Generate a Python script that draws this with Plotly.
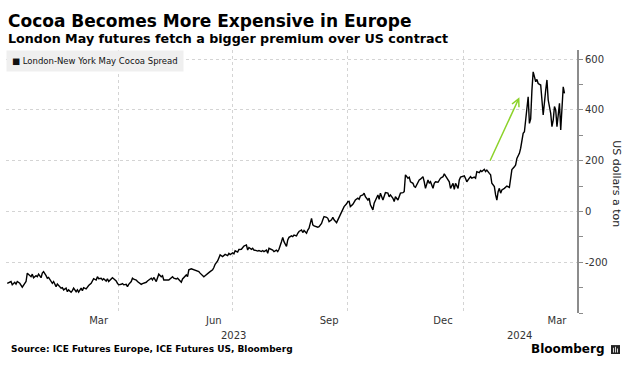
import pandas as pd
import plotly.graph_objects as go

# Days since 2023-01-01 and London-New York May cocoa spread (US$/t)
days = [
    1, 4, 5, 7, 8, 9, 11, 13, 15, 16, 17, 19, 20, 21, 22, 24, 25, 26, 28, 29, 30, 32, 33, 34, 36, 37, 38,
    40, 41, 42, 44, 45, 46, 48, 49, 50, 52, 53, 54, 56, 57, 58, 60, 61, 62, 64, 65, 66, 68, 69, 70, 72,
    73, 74, 76, 77, 78, 80, 81, 82, 84, 85, 86, 88, 89, 90,
    92, 93, 94, 96, 97, 98, 100, 101, 102, 104, 105, 106, 108, 109, 110, 112, 113, 114, 116, 117, 118,
    120, 121, 122, 124, 125, 126, 128, 129, 130, 132, 133, 134, 136, 137, 138, 140, 141, 142, 144, 145,
    146, 148, 150, 152, 154, 155, 157, 158, 159, 161, 162, 163, 165, 166, 167, 169, 170, 171, 173, 174,
    175, 177, 178, 179, 181, 182, 183, 185, 186,
    188, 189, 190, 192, 193, 194, 196, 197, 198, 200, 201, 202, 204, 205, 206, 208, 209, 210, 212, 213,
    214, 216, 217, 218, 220, 221, 222, 224, 225, 226, 228, 229, 230, 232, 233, 234, 236, 237, 238, 240,
    241, 242, 244, 245, 246, 248, 249, 250, 252, 253, 254, 256, 257, 258, 260, 261, 262, 264, 265, 266,
    268, 269, 270, 272, 273, 274, 275, 277, 278, 279, 281,
    282, 283, 285, 286, 287, 289, 290, 291, 293, 294, 295, 297, 298, 299, 301, 302, 303, 305, 306, 307,
    309, 310, 311, 313, 314, 315, 317, 318, 319, 321, 322, 323, 325, 326, 327, 329, 330, 331, 333, 334,
    335, 337, 338, 339, 341, 342, 343, 345, 346, 347, 349, 350, 351, 353, 354, 355, 357, 358, 359, 361,
    362, 363, 365,
    366, 367, 368, 370, 371, 372, 374, 375, 376, 378, 379, 380, 382, 383, 384, 386, 387, 388, 390, 391,
    392, 393, 394, 395, 396, 398, 399, 400, 402, 403, 404, 406, 407, 408, 410, 411, 412, 413, 414, 415,
    416, 417, 418, 419, 420, 421, 422, 423, 424, 425, 427, 428, 429, 431, 432, 433, 435, 436, 437, 438,
    439, 440, 441, 442, 443, 444, 445, 446,
]
spread = [
    -283, -276, -289, -279, -286, -276, -283, -298, -283, -276, -243, -250, -257, -247, -261, -253, -257,
    -247, -261, -243, -237, -253, -263, -260, -276, -283, -276, -296, -286, -292, -302, -300, -309, -302,
    -316, -309, -318, -312, -302, -316, -309, -318, -302, -312, -300, -305, -296, -292, -283, -276, -265,
    -270, -257, -265, -263, -270, -265, -274, -265, -276, -263, -261, -265, -274, -283, -289,
    -287, -284, -289, -287, -296, -287, -276, -263, -267, -270, -276, -279, -287, -284, -283, -279, -274,
    -270, -263, -270, -260, -276, -263, -247, -257, -253, -270, -272, -270, -270, -263, -257, -263, -266,
    -263, -270, -279, -266, -260, -250, -257, -230, -226, -229, -233, -237, -243, -250, -257, -253, -247,
    -241, -237, -230, -221, -208, -195, -184, -171, -178, -174, -169, -174, -165, -170, -163, -167, -155,
    -160, -150,
    -149, -141, -136, -132, -152, -142, -149, -145, -152, -154, -156, -154, -158, -154, -158, -152, -165,
    -145, -149, -152, -158, -152, -158, -149, -119, -102, -119, -138, -112, -102, -96, -99, -93, -96, -86,
    -79, -73, -83, -75, -86, -73, -66, -27, -53, -57, -62, -62, -60, -47, -33, -20, -23, -27, -40, -33,
    -23, -33, -44, -33, -27, -1, 6, 19, 30, 39, 40, 19, 28, 35, 45, 52,
    48, 61, 65, 72, 58, 45, 52, 26, 6, 32, 45, 65, 48, 72, 45, 65, 74, 72, 58, 65, 52, 39, 58, 45, 58, 72,
    74, 78, 144, 131, 135, 117, 111, 98, 95, 117, 124, 127, 137, 117, 91, 124, 111, 117, 91, 111, 117,
    115, 124, 131, 137, 148, 140, 124, 117, 91, 111, 87, 111, 91, 124, 135, 138,
    140, 130, 117, 131, 137, 131, 135, 131, 157, 153, 161, 157, 166, 157, 163, 150, 144, 111, 98, 65, 45,
    78, 91, 72, 85, 91, 95, 100, 95, 137, 165, 176, 183, 209, 229, 249, 281, 308, 314, 360, 420, 452, 347,
    365, 478, 550, 531, 511, 520, 504, 498, 446, 380, 478, 518, 439, 386, 334, 360, 413, 400, 334, 373,
    426, 321, 413, 491, 465,
]

month_tick_dates = ["2023-03-16", "2023-06-16", "2023-09-16", "2023-12-16", "2024-03-16"]
month_tick_labels = ["Mar", "Jun", "Sep", "Dec", "Mar"]
quarter_grid_dates = ["2023-04-01", "2023-07-01", "2023-10-01", "2024-01-01"]
year_label_dates = ["2023-07-02", "2024-02-15"]
year_labels = ["2023", "2024"]
y_tick_vals = [-400, -200, 0, 200, 400, 600]
y_tick_text = ["", "-200", "0", "200", "400", "600"]
arrow_start = ("2024-01-22", 194)
arrow_end = ("2024-02-15", 450)

dates = pd.Timestamp("2023-01-01") + pd.to_timedelta(days, unit="D")

FONT = "DejaVu Sans"
GRID = "#d4d4d4"
AXIS = "#8c8c8c"

fig = go.Figure()
fig.add_trace(go.Scatter(
    x=dates, y=spread, mode="lines",
    line=dict(color="#000000", width=1.4),
    name="London-New York May Cocoa Spread", showlegend=False,
))

fig.update_layout(
    template="none",
    width=624, height=369,
    margin=dict(l=6, r=47, t=50, b=56, autoexpand=False),
    paper_bgcolor="white", plot_bgcolor="white",
    font=dict(family=FONT, color="#222"),
    showlegend=False,
    xaxis=dict(
        type="date", range=["2023-01-01", "2024-04-01"], automargin=False,
        tickmode="array", tickvals=month_tick_dates, ticktext=month_tick_labels,
        showgrid=False, zeroline=False, showline=False, ticks="",
        tickfont=dict(size=10, color="#333"),
        minor=dict(tickmode="array", tickvals=quarter_grid_dates, showgrid=True,
                   gridcolor=GRID, griddash="dot", gridwidth=1, ticks=""),
    ),
    yaxis=dict(
        side="right", range=[-400, 636], automargin=False,
        tickmode="array", tickvals=y_tick_vals, ticktext=y_tick_text,
        showgrid=True, gridcolor=GRID, griddash="dot", gridwidth=1,
        zeroline=False, showline=True, linecolor=AXIS, linewidth=2,
        ticks="outside", ticklen=4, tickcolor=AXIS, tickwidth=1,
        tickfont=dict(size=10, color="#333"),
        minor=dict(dtick=100, ticks="outside", ticklen=4, tickcolor=AXIS, showgrid=False),
    ),
)

annotations = [
    dict(text="<b>Cocoa Becomes More Expensive in Europe</b>", xref="paper", yref="paper",
         x=0, y=1.110, xanchor="left", yanchor="middle", showarrow=False,
         font=dict(family=FONT, size=17, color="#000")),
    dict(text="<b>London May futures fetch a bigger premium over US contract</b>", xref="paper", yref="paper",
         x=0, y=1.042, xanchor="left", yanchor="middle", showarrow=False,
         font=dict(family=FONT, size=12.7, color="#000")),
    dict(text="■ London-New York May Cocoa Spread", xref="paper", yref="paper",
         x=0, y=0.960, xanchor="left", yanchor="middle", showarrow=False,
         bgcolor="#efefef", borderpad=5,
         font=dict(family=FONT, size=8.5, color="#111")),
    dict(text="US dollars a ton", xref="paper", yref="paper", x=1.070, y=0.49,
         xanchor="center", yanchor="middle", textangle=90, showarrow=False,
         font=dict(family=FONT, size=11, color="#222")),
    dict(text="<b>Source: ICE Futures Europe, ICE Futures US, Bloomberg</b>", xref="paper", yref="paper",
         x=0.005, y=-0.137, xanchor="left", yanchor="middle", showarrow=False,
         font=dict(family=FONT, size=9, color="#000")),
    dict(text="<b>Bloomberg</b>", xref="paper", yref="paper", x=1.0525, y=-0.137,
         xanchor="right", yanchor="middle", showarrow=False,
         font=dict(family=FONT, size=12, color="#000")),
    dict(x=arrow_end[0], y=arrow_end[1], ax=arrow_start[0], ay=arrow_start[1],
         xref="x", yref="y", axref="x", ayref="y", text="", showarrow=True,
         arrowhead=5, arrowsize=1, arrowwidth=1.5, arrowcolor="#8cd22a"),
]
for d, lab in zip(year_label_dates, year_labels):
    annotations.append(dict(text=lab, x=d, xref="x", y=-0.084, yref="paper",
                            xanchor="center", yanchor="middle", showarrow=False,
                            font=dict(family=FONT, size=10, color="#333")))
fig.update_layout(annotations=annotations)

# Bloomberg logo mark (dark tile with small white bars)
fig.add_shape(type="rect", xref="paper", yref="paper", x0=1.0595, x1=1.0753, y0=-0.156, y1=-0.122,
              fillcolor="#222", line=dict(width=0))
for bx0, bx1, by1 in [(1.0630, 1.0645, -0.132), (1.0665, 1.0680, -0.128), (1.0700, 1.0715, -0.135)]:
    fig.add_shape(type="rect", xref="paper", yref="paper", x0=bx0, x1=bx1, y0=-0.150, y1=by1,
                  fillcolor="white", line=dict(width=0))

fig.write_html("out.html", config={"displayModeBar": False},
               post_script="document.body.style.margin='0';")
